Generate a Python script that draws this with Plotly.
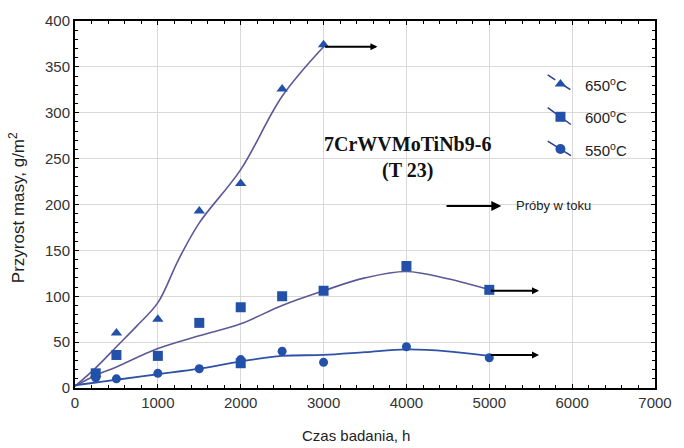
import plotly.graph_objects as go

# Measured mass gain (markers)
hours_650 = [250, 500, 1000, 1500, 2000, 2500, 3000]
gain_650 = [15, 60, 75, 193, 223, 326, 374]
hours_600 = [250, 500, 1000, 1500, 2000, 2000, 2500, 3000, 4000, 5000]
gain_600 = [16, 36, 35, 71, 88, 27, 100, 106, 133, 107]
hours_550 = [250, 500, 1000, 1500, 2000, 2500, 3000, 4000, 5000]
gain_550 = [11, 10, 16, 21, 31, 40, 28, 45, 33]

# Fitted trend curves
fit_hours_650 = [0, 250, 500, 750, 1000, 1250, 1500, 2000, 2500, 3000]
fit_650 = [2, 22, 45, 68, 93, 140, 180, 238, 318, 372]
fit_hours = [0, 250, 500, 1000, 1500, 2000, 2500, 3000, 3500, 4000, 4500, 5000]
fit_600 = [2, 14, 23, 43, 57, 70, 90, 106, 120, 127, 119, 107]
fit_550 = [3, 6, 9, 15, 21, 29, 35, 36, 39, 42, 40, 35]

# Tests still running: arrow (start hour, end hour, level)
running = [(3000, 3650, 372), (5000, 5600, 106), (5000, 5600, 36)]

series_labels = ["650<sup>o</sup>C", "600<sup>o</sup>C", "550<sup>o</sup>C"]
x_ticks = [0, 1000, 2000, 3000, 4000, 5000, 6000, 7000]
y_ticks = [0, 50, 100, 150, 200, 250, 300, 350, 400]

MARK = "#2350a8"
CURVE_HI = "#5c5898"
CURVE_LO = "#2f52a8"
TICK_FONT = dict(family="Liberation Sans Narrow, Arial Narrow, Liberation Sans, Arial", size=15, color="#333")

fig = go.Figure()

fig.add_trace(go.Scatter(x=fit_hours_650, y=fit_650, mode="lines",
                         line=dict(color=CURVE_HI, width=1.6, shape="spline", smoothing=1.0),
                         showlegend=False, hoverinfo="skip"))
fig.add_trace(go.Scatter(x=fit_hours, y=fit_600, mode="lines",
                         line=dict(color=CURVE_HI, width=1.6, shape="spline", smoothing=1.0),
                         showlegend=False, hoverinfo="skip"))
fig.add_trace(go.Scatter(x=fit_hours, y=fit_550, mode="lines",
                         line=dict(color=CURVE_LO, width=1.8, shape="spline", smoothing=1.0),
                         showlegend=False, hoverinfo="skip"))

fig.add_trace(go.Scatter(x=hours_550, y=gain_550, mode="markers",
                         marker=dict(symbol="circle", size=9, color=MARK), showlegend=False))
fig.add_trace(go.Scatter(x=hours_600, y=gain_600, mode="markers",
                         marker=dict(symbol="square", size=10, color=MARK), showlegend=False))
fig.add_trace(go.Scatter(x=hours_650, y=gain_650, mode="markers",
                         marker=dict(symbol="triangle-up", size=10, color=MARK), showlegend=False))

# "in progress" arrows
for x0, x1, lvl in running:
    fig.add_annotation(x=x1, y=lvl, ax=x0, ay=lvl, xref="x", yref="y", axref="x", ayref="y",
                       text="", showarrow=True, arrowhead=2, arrowsize=0.7, arrowwidth=2,
                       arrowcolor="black")

# White boxes that interrupt the grid behind the text blocks
for x0, x1, y0, y1 in [(0.361, 0.799, 0.525, 0.732), (0.633, 0.898, 0.472, 0.523),
                       (0.791, 0.969, 0.584, 0.885)]:
    fig.add_shape(type="rect", xref="paper", yref="paper", x0=x0, x1=x1, y0=y0, y1=y1,
                  fillcolor="white", line=dict(width=0), layer="between")

# Hand-drawn legend: slanted stroke through each symbol
legend_rows = [(0.853, 0.812, 0.828, "triangle-up", "dash"),
               (0.764, 0.718, 0.739, "square", "solid"),
               (0.673, 0.633, 0.651, "circle", "solid")]
for (ya, yb, ym, sym, dash), lab in zip(legend_rows, series_labels):
    fig.add_trace(go.Scatter(x=[0.815, 0.855], y=[ya, yb], xaxis="x2", yaxis="y2", mode="lines",
                             line=dict(color="#2a3f8f", width=1.5, dash=dash),
                             showlegend=False, hoverinfo="skip"))
    fig.add_trace(go.Scatter(x=[0.837], y=[ym], xaxis="x2", yaxis="y2", mode="markers",
                             marker=dict(symbol=sym, size=10, color=MARK),
                             showlegend=False, hoverinfo="skip"))
    fig.add_annotation(x=0.876, y=ym, xref="paper", yref="paper", text=lab, showarrow=False,
                       xanchor="left", yanchor="middle",
                       font=dict(family="Liberation Sans, Arial", size=15, color="#222"))

# Title block
fig.add_annotation(x=0.573, y=0.665, xref="paper", yref="paper", text="<b>7CrWVMoTiNb9-6</b>",
                   showarrow=False, font=dict(family="Liberation Serif, Times New Roman", size=20, color="#111"))
fig.add_annotation(x=0.573, y=0.592, xref="paper", yref="paper", text="<b>(T 23)</b>",
                   showarrow=False, font=dict(family="Liberation Serif, Times New Roman", size=20, color="#111"))

# Key for the arrows
fig.add_annotation(x=0.735, y=0.496, ax=0.638, ay=0.496, xref="x2", yref="y2",
                   axref="x2", ayref="y2", text="", showarrow=True, arrowhead=2,
                   arrowsize=1, arrowwidth=2, arrowcolor="black")
fig.add_annotation(x=0.757, y=0.496, xref="paper", yref="paper", text="Próby w toku",
                   showarrow=False, xanchor="left", yanchor="middle",
                   font=dict(family="Liberation Sans Narrow, Liberation Sans, Arial", size=13, color="#222"))

# Axis titles
fig.add_annotation(x=0.485, y=-0.13, xref="paper", yref="paper", text="Czas badania, h",
                   showarrow=False, yanchor="middle",
                   font=dict(family="Liberation Sans Narrow, Liberation Sans, Arial", size=15, color="#222"))
fig.add_annotation(x=-0.1, y=0.49, xref="paper", yref="paper", text="Przyrost masy, g/m<sup>2</sup>",
                   showarrow=False, textangle=-90, xanchor="center", yanchor="middle",
                   font=dict(family="Liberation Sans, Arial", size=17, color="#222"))

axis_common = dict(showline=True, linecolor="black", linewidth=2, mirror="ticks",
                   showgrid=True, gridcolor="#d9d9d9", gridwidth=1, zeroline=False,
                   ticks="inside", ticklen=4, tickcolor="black", tickfont=TICK_FONT)

fig.update_layout(
    width=684, height=448,
    margin=dict(l=75, r=21, t=15, b=60),
    paper_bgcolor="white", plot_bgcolor="white",
    xaxis=dict(range=[0, 7000], tickvals=x_ticks, ticktext=[str(v) for v in x_ticks],
               minor=dict(dtick=200, ticks="inside", ticklen=3, tickcolor="black", showgrid=False),
               **axis_common),
    yaxis=dict(range=[0, 400], tickvals=y_ticks, ticktext=[str(v) for v in y_ticks],
               minor=dict(dtick=10, ticks="inside", ticklen=3, tickcolor="black", showgrid=False),
               **axis_common),
    xaxis2=dict(overlaying="x", range=[0, 1], visible=False, fixedrange=True),
    yaxis2=dict(overlaying="y", range=[0, 1], visible=False, fixedrange=True),
    showlegend=False,
)

fig.write_html("out.html")
